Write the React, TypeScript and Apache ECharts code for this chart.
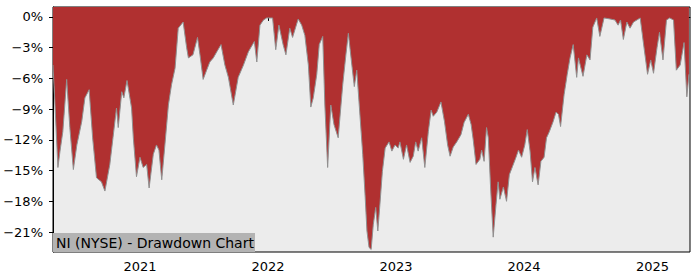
import React, { useEffect, useRef } from "react";
import * as echarts from "echarts";

const dates: string[] = [
  "2020-04-28", "2020-05-03", "2020-05-12", "2020-05-18", "2020-05-26", "2020-06-06", "2020-06-15", "2020-06-25",
  "2020-07-05", "2020-07-19", "2020-07-28", "2020-08-09", "2020-08-19", "2020-08-30", "2020-09-13", "2020-09-23",
  "2020-10-07", "2020-10-16", "2020-10-26", "2020-10-31", "2020-11-10", "2020-11-16", "2020-11-25", "2020-12-08",
  "2020-12-13", "2020-12-22", "2021-01-01",
  "2021-01-10", "2021-01-20", "2021-01-27", "2021-02-08", "2021-02-17", "2021-02-24", "2021-03-04", "2021-03-13",
  "2021-03-23", "2021-04-01", "2021-04-11", "2021-04-20", "2021-05-04", "2021-05-14", "2021-05-19", "2021-06-01",
  "2021-06-14", "2021-06-21", "2021-06-30", "2021-07-10", "2021-07-19", "2021-07-29", "2021-08-08", "2021-08-20",
  "2021-08-31", "2021-09-10", "2021-09-24", "2021-10-08", "2021-10-23", "2021-11-06", "2021-11-23", "2021-11-30",
  "2021-12-09", "2021-12-19", "2021-12-28",
  "2022-01-14", "2022-01-23", "2022-02-01", "2022-02-13", "2022-02-21", "2022-03-04", "2022-03-12", "2022-03-28",
  "2022-04-07", "2022-04-16", "2022-04-26", "2022-05-03", "2022-05-10", "2022-05-20", "2022-05-27", "2022-06-06",
  "2022-06-12", "2022-06-20", "2022-06-29", "2022-07-08", "2022-07-20", "2022-08-02", "2022-08-11", "2022-08-18",
  "2022-08-28", "2022-09-04", "2022-09-11", "2022-09-18", "2022-09-28", "2022-10-05", "2022-10-10", "2022-10-16",
  "2022-10-22", "2022-10-28", "2022-11-04", "2022-11-10", "2022-11-16", "2022-11-23", "2022-12-01", "2022-12-12",
  "2022-12-20", "2022-12-29",
  "2023-01-07", "2023-01-12", "2023-01-22", "2023-01-31", "2023-02-10", "2023-02-19", "2023-02-26", "2023-03-05",
  "2023-03-15", "2023-03-24", "2023-04-03", "2023-04-11", "2023-04-17", "2023-04-27", "2023-05-09", "2023-05-19",
  "2023-05-28", "2023-06-04", "2023-06-13", "2023-06-23", "2023-07-05", "2023-07-14", "2023-07-26", "2023-08-03",
  "2023-08-09", "2023-08-17", "2023-08-28", "2023-09-02", "2023-09-09", "2023-09-16", "2023-09-21", "2023-09-28",
  "2023-10-05", "2023-10-13", "2023-10-19", "2023-10-24", "2023-11-03", "2023-11-12", "2023-11-20", "2023-11-29",
  "2023-12-09", "2023-12-16", "2023-12-25",
  "2024-01-03", "2024-01-10", "2024-01-18", "2024-01-25", "2024-02-01", "2024-02-10", "2024-02-18", "2024-02-27",
  "2024-03-05", "2024-03-13", "2024-03-24", "2024-04-01", "2024-04-08", "2024-04-14", "2024-04-24", "2024-05-03",
  "2024-05-11", "2024-05-20", "2024-05-30", "2024-06-04", "2024-06-17", "2024-06-28", "2024-07-07", "2024-07-15",
  "2024-07-26", "2024-08-04", "2024-08-16", "2024-09-02", "2024-09-16", "2024-09-25", "2024-10-02", "2024-10-10",
  "2024-10-20", "2024-10-29", "2024-11-08", "2024-11-27", "2024-12-06", "2024-12-18", "2024-12-27",
  "2025-01-04", "2025-01-14", "2025-01-21", "2025-01-31", "2025-02-10", "2025-02-19", "2025-03-02", "2025-03-10",
  "2025-03-21", "2025-04-01", "2025-04-09", "2025-04-15",
];

const drawdown: number[] = [
  -4.7, -8.1, -14.7, -13.1, -11.2, -6.1, -10.8, -14.9,
  -12.5, -10.2, -7.9, -7.1, -11.8, -15.7, -16.1, -17.0,
  -14.4, -11.8, -8.9, -10.8, -7.3, -7.9, -6.2, -8.9,
  -11.8, -15.6, -13.7,
  -14.7, -14.4, -16.7, -13.4, -12.5, -13.0, -15.9, -12.5,
  -8.6, -6.6, -5.0, -1.1, -0.5, -3.0, -4.0, -3.7,
  -2.0, -3.7, -6.1, -5.2, -4.4, -4.0, -3.4, -2.7,
  -4.7, -5.9, -8.6, -5.9, -4.7, -3.4, -2.4, -4.4,
  -0.8, -0.3, -0.1,
  -0.1, -3.2, -0.8, -2.7, -3.7, -1.1, -2.0, -0.2,
  -0.8, -1.8, -4.7, -8.8, -7.9, -5.6, -2.7, -1.9,
  -8.6, -14.7, -8.6, -10.5, -11.8, -6.6, -3.7, -1.6,
  -4.7, -6.8, -5.2, -8.6, -13.4, -17.6, -20.9, -22.5,
  -22.7, -20.3, -18.6, -20.9, -18.3, -15.1, -12.8, -12.2,
  -13.1, -12.5,
  -12.8, -12.2, -13.9, -12.5, -14.2, -13.6, -12.2, -13.1,
  -11.8, -14.7, -11.2, -9.1, -9.7, -9.3, -8.3, -10.2,
  -12.5, -13.6, -12.7, -12.2, -11.5, -10.3, -9.5, -10.5,
  -12.0, -14.4, -13.9, -13.0, -14.1, -10.8, -11.8, -17.0,
  -21.5, -18.3, -16.1, -17.8, -16.6, -18.0, -15.4, -14.6,
  -13.7, -13.0, -13.7,
  -12.5, -11.0, -13.1, -16.1, -14.7, -16.4, -14.1, -13.7,
  -11.8, -11.2, -10.2, -9.3, -9.5, -10.7, -7.6, -5.6,
  -4.0, -2.7, -5.9, -4.0, -5.8, -3.7, -4.2, -1.0,
  -0.1, -1.9, -0.1, -0.2, -0.3, -0.8, -0.3, -2.2,
  -0.5, -1.1, -0.5, -0.1, -2.5, -5.6, -4.2,
  -5.5, -3.0, -1.5, -4.2, -0.3, -0.1, -0.3, -5.2,
  -4.7, -2.5, -7.8, -5.6,
];

const yearTicks: number[] = [2021, 2022, 2023, 2024, 2025];
const yTicks: number[] = [0, -3, -6, -9, -12, -15, -18, -21];
const xStart = "2020-04-28";
const xEnd = "2025-04-18";
const yMin = -22.95;
const yMax = 0.97;
const title = "NI (NYSE) - Drawdown Chart";

const FONT = "DejaVu Sans";

const toTs = (d: string) => {
  const [y, m, day] = d.split("-").map(Number);
  return Date.UTC(y, m - 1, day);
};

export default function App() {
  const ref = useRef<HTMLDivElement>(null);

  useEffect(() => {
    document.body.style.margin = "0";
    if (!ref.current) return;
    const chart = echarts.init(ref.current, null, { renderer: "svg" });
    const yearTs = yearTicks.map((y) => Date.UTC(y, 0, 1));
    const data = dates.map((d, i) => [toTs(d), drawdown[i]]);
    chart.setOption({
      animation: false,
      grid: {
        left: 53,
        right: 10,
        top: 7,
        bottom: 28,
        show: true,
        backgroundColor: "#ececec",
        borderColor: "#000",
        borderWidth: 1,
      },
      xAxis: {
        type: "value",
        min: toTs(xStart),
        max: toTs(xEnd),
        axisLine: { show: true, lineStyle: { color: "#000", width: 1 } },
        axisTick: {
          show: true,
          length: 4,
          lineStyle: { color: "#000" },
          customValues: yearTs,
        },
        axisLabel: {
          customValues: yearTs,
          formatter: (v: number) => String(new Date(v).getUTCFullYear()),
          color: "#000",
          fontFamily: FONT,
          fontSize: 13,
          margin: 8,
        },
        splitLine: { show: false },
      },
      yAxis: {
        type: "value",
        min: yMin,
        max: yMax,
        axisLine: { show: true, lineStyle: { color: "#000", width: 1 } },
        axisTick: {
          show: true,
          length: 4,
          lineStyle: { color: "#000" },
          customValues: yTicks,
        },
        axisLabel: {
          customValues: yTicks,
          formatter: (v: number) => (v < 0 ? "\u2212" + Math.abs(v) : String(v)) + "%",
          color: "#000",
          fontFamily: FONT,
          fontSize: 13,
          margin: 10,
        },
        splitLine: { show: false },
      },
      series: [
        {
          type: "line",
          data,
          showSymbol: false,
          symbol: "none",
          lineStyle: { color: "#909090", width: 1 },
          areaStyle: { color: "#b03030", opacity: 1, origin: "end" },
        },
      ],
      graphic: [
        {
          type: "rect",
          shape: { x: 53, y: 233, width: 202, height: 19 },
          style: { fill: "#b3b3b3" },
          z: 100,
        },
        {
          type: "text",
          x: 56,
          y: 243,
          style: {
            text: title,
            fill: "#000",
            font: `14px "${FONT}"`,
            verticalAlign: "middle",
            align: "left",
          },
          z: 101,
        },
      ],
    });
    return () => chart.dispose();
  }, []);

  return <div ref={ref} style={{ width: 700, height: 280 }} />;
}
